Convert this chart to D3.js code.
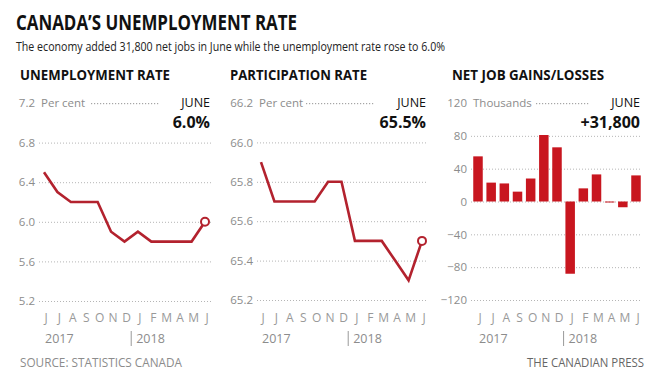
<!DOCTYPE html>
<html>
<head>
<meta charset="utf-8">
<script src="https://cdn.jsdelivr.net/npm/d3@7"></script>
<style>
  body { margin: 0; background: #fff; }
  svg { font-family: "Open Sans", sans-serif; }
</style>
</head>
<body>
<div id="chart"></div>
<script>
// data
const months = ["J", "J", "A", "S", "O", "N", "D", "J", "F", "M", "A", "M", "J"];
const unemployment = [6.5, 6.3, 6.2, 6.2, 6.2, 5.9, 5.8, 5.9, 5.8, 5.8, 5.8, 5.8, 6.0];
const participation = [65.9, 65.7, 65.7, 65.7, 65.7, 65.8, 65.8, 65.5, 65.5, 65.5, 65.4, 65.3, 65.5];
const jobGains = [55, 23, 22, 12, 28, 81, 66, -88, 16, 33, -1, -7, 31.8];
const unemploymentTicks = [7.2, 6.8, 6.4, 6.0, 5.6, 5.2];
const participationTicks = [66.2, 66.0, 65.8, 65.6, 65.4, 65.2];
const jobTicks = [120, 80, 40, 0, -40, -80, -120];
const years = ["2017", "2018"];
const panelTitles = ["UNEMPLOYMENT RATE", "PARTICIPATION RATE", "NET JOB GAINS/LOSSES"];
const units = ["Per cent", "Per cent", "Thousands"];
const latestValues = ["6.0%", "65.5%", "+31,800"];

const red = "#b3222e";
const barRed = "#c8161f";
const grey = "#8c8c8c";

const svg = d3.select("#chart")
    .append("svg")
    .attr("width", 667)
    .attr("height", 374);

svg.append("text")
    .attr("x", 16).attr("y", 30)
    .attr("font-size", 21).attr("font-weight", 700)
    .attr("fill", "#111")
    .attr("textLength", 281).attr("lengthAdjust", "spacingAndGlyphs")
    .text("CANADA\u2019S UNEMPLOYMENT RATE");

svg.append("text")
    .attr("x", 16).attr("y", 51)
    .attr("font-size", 13.5)
    .attr("fill", "#222")
    .attr("textLength", 429).attr("lengthAdjust", "spacingAndGlyphs")
    .text("The economy added 31,800 net jobs in June while the unemployment rate rose to 6.0%");

// panel placement
const panels = [
    { x: 20, labelRight: 35, first: 44, last: 205, gridEnd: 212, top: 103, bottom: 301, titleW: 150,
      dotStart: 91, dotEnd: 158,
      values: unemployment, ticks: unemploymentTicks, fmt: d3.format(".1f"), kind: "line" },
    { x: 230, labelRight: 253, first: 261, last: 422, gridEnd: 428, top: 103, bottom: 300, titleW: 137,
      dotStart: 306, dotEnd: 374,
      values: participation, ticks: participationTicks, fmt: d3.format(".1f"), kind: "line" },
    { x: 452, labelRight: 467, first: 478, last: 636, gridEnd: 642, top: 103, bottom: 300, titleW: 152,
      dotStart: 536, dotEnd: 588,
      values: jobGains, ticks: jobTicks, fmt: d3.format("d"), kind: "bar" }
];

panels.forEach((p, i) => {
    const g = svg.append("g");
    const gridStart = p.labelRight + 4;

    g.append("text")
        .attr("x", p.x).attr("y", 80)
        .attr("font-size", 14).attr("font-weight", 700)
        .attr("fill", "#111")
        .attr("textLength", p.titleW).attr("lengthAdjust", "spacingAndGlyphs")
        .text(panelTitles[i]);

    const x = d3.scalePoint()
        .domain(d3.range(months.length))
        .range([p.first, p.last]);

    const y = d3.scaleLinear()
        .domain(d3.extent(p.ticks))
        .range([p.bottom, p.top]);

    // June label + value
    g.append("text")
        .attr("x", p.gridEnd - 2).attr("y", 107)
        .attr("text-anchor", "end")
        .attr("font-size", 12.5).attr("fill", "#111")
        .text("JUNE");
    g.append("text")
        .attr("x", p.gridEnd - 2).attr("y", 128)
        .attr("text-anchor", "end")
        .attr("font-size", 16).attr("font-weight", 700).attr("fill", "#111")
        .text(latestValues[i]);

    // axis with dotted grid (top tick gets its own short run below)
    const axis = g.append("g")
        .attr("transform", `translate(${gridStart},0)`)
        .call(d3.axisLeft(y)
            .tickValues(p.ticks)
            .tickFormat(p.fmt)
            .tickSize(-(p.gridEnd - gridStart))
            .tickPadding(4));
    axis.select(".domain").remove();
    axis.selectAll("line")
        .attr("stroke", "#b5b5b5")
        .attr("stroke-dasharray", "1,2");
    axis.selectAll("text")
        .attr("fill", grey)
        .attr("font-size", 11.5)
        .attr("font-family", "Open Sans, sans-serif");
    axis.selectAll(".tick")
        .filter(d => d === p.ticks[0])
        .select("line")
        .attr("stroke", "none");

    g.append("text")
        .attr("x", p.labelRight + 6).attr("y", y(p.ticks[0]))
        .attr("dy", "0.32em")
        .attr("font-size", 11.5).attr("fill", grey)
        .text(units[i]);

    // short dotted run between the unit and JUNE, drawn as tiny dots
    const ty = Math.round(y(p.ticks[0]));
    g.selectAll(".topdot")
        .data(d3.range(p.dotStart, p.dotEnd, 3))
        .enter()
        .append("rect")
        .attr("class", "topdot")
        .attr("x", d => d)
        .attr("y", ty)
        .attr("width", 1.2)
        .attr("height", 1.2)
        .attr("fill", "#a5a5a5");

    if (p.kind === "line") {
        const line = d3.line()
            .x((d, j) => x(j))
            .y(d => y(d));
        g.append("path")
            .datum(p.values)
            .attr("d", line)
            .attr("fill", "none")
            .attr("stroke", red)
            .attr("stroke-width", 2.6)
            .attr("stroke-linejoin", "miter");
        const lastIdx = p.values.length - 1;
        g.append("circle")
            .attr("cx", x(lastIdx))
            .attr("cy", y(p.values[lastIdx]))
            .attr("r", 4)
            .attr("fill", "#fff")
            .attr("stroke", red)
            .attr("stroke-width", 2);
    } else {
        const bw = 9.5;
        g.selectAll(".bar")
            .data(p.values)
            .enter()
            .append("rect")
            .attr("class", "bar")
            .attr("x", (d, j) => x(j) - bw / 2)
            .attr("y", d => y(Math.max(0, d)))
            .attr("width", bw)
            .attr("height", d => Math.max(1, Math.abs(y(d) - y(0))))
            .attr("fill", barRed);
    }

    // month letters
    g.selectAll(".month")
        .data(months)
        .enter()
        .append("text")
        .attr("class", "month")
        .attr("x", (d, j) => x(j) + 2)
        .attr("y", 322)
        .attr("text-anchor", "middle")
        .attr("font-size", 12)
        .attr("fill", "#999")
        .text(d => d);

    // year labels
    const step = x.step();
    g.append("text")
        .attr("x", p.first + 1).attr("y", 343)
        .attr("font-size", 12.5).attr("fill", grey)
        .text(years[0]);
    const sep = x(6) + step / 2;
    g.append("line")
        .attr("x1", sep).attr("x2", sep)
        .attr("y1", 331).attr("y2", 346)
        .attr("stroke", "#999").attr("stroke-width", 1);
    g.append("text")
        .attr("x", sep + 5).attr("y", 343)
        .attr("font-size", 12.5).attr("fill", grey)
        .text(years[1]);
});

svg.append("text")
    .attr("x", 20).attr("y", 367)
    .attr("font-size", 12.5).attr("fill", grey)
    .attr("textLength", 162).attr("lengthAdjust", "spacingAndGlyphs")
    .text("SOURCE: STATISTICS CANADA");

svg.append("text")
    .attr("x", 644).attr("y", 367)
    .attr("text-anchor", "end")
    .attr("font-size", 12).attr("fill", "#666")
    .attr("textLength", 117).attr("lengthAdjust", "spacingAndGlyphs")
    .text("THE CANADIAN PRESS");
</script>
</body>
</html>
